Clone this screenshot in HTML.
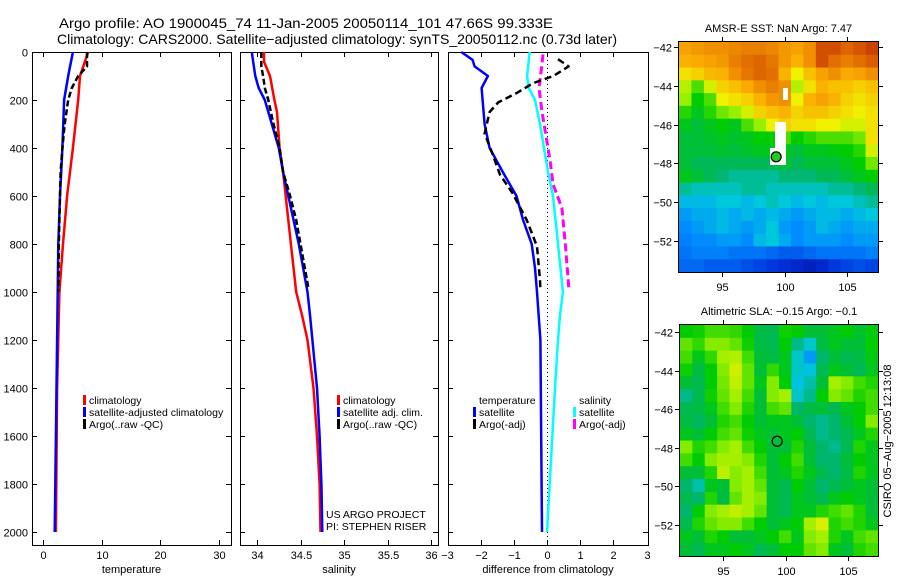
<!DOCTYPE html>
<html><head><meta charset="utf-8"><style>
html,body{margin:0;padding:0;background:#fff;}
svg{display:block;font-family:"Liberation Sans",sans-serif;}
</style></head><body>
<svg id="chart" width="900" height="580" viewBox="0 0 900 580">
<text x="59" y="28" font-size="14" textLength="494" lengthAdjust="spacingAndGlyphs">Argo profile: AO 1900045_74 11-Jan-2005 20050114_101 47.66S 99.333E</text>
<text x="57" y="44" font-size="14" textLength="560" lengthAdjust="spacingAndGlyphs">Climatology: CARS2000. Satellite−adjusted climatology: synTS_20050112.nc (0.73d later)</text>
<g id="layer"></g>
</svg>
<script>
// ---------- data ----------
const tempDepthClim=[0,100,200,400,600,800,1000,1400,2000];
const tempClim=[7.7,6.3,6.0,5.1,4.1,3.4,2.8,2.4,2.2];
const tempDepthSat=[0,100,200,400,600,800,1000,1400,2000];
const tempSat=[5.1,4.3,3.6,3.3,2.9,2.6,2.5,2.3,2.0];
const tempDepthArgo=[0,60,100,150,200,300,400,500,600,800,1000];
const tempArgo=[7.5,7.5,6.0,4.9,4.3,3.7,3.3,3.0,2.9,2.7,2.6];
const salDepthClim=[0,40,100,200,250,400,500,600,800,1000,1100,1200,1400,1600,1800,2000];
const salClim=[34.08,34.08,34.15,34.2,34.23,34.26,34.3,34.33,34.39,34.45,34.52,34.58,34.65,34.69,34.72,34.73];
const salDepthSat=[0,50,100,150,200,300,400,500,600,800,1000,1100,1400,1600,1800,2000];
const salSat=[33.94,33.96,33.98,34.02,34.09,34.17,34.25,34.3,34.36,34.48,34.58,34.61,34.69,34.72,34.74,34.75];
const salDepthArgo=[0,60,100,150,200,300,400,500,600,700,800,900,980];
const salArgo=[34.05,34.05,34.07,34.09,34.13,34.19,34.26,34.3,34.38,34.45,34.5,34.55,34.59];
const dTDepthSat=[0,33,60,100,150,200,300,400,500,600,700,800,900,1000,1200,2000];
const dTSat=[-2.58,-2.24,-2.18,-1.78,-1.97,-1.94,-1.88,-1.73,-1.33,-0.92,-0.72,-0.46,-0.36,-0.3,-0.2,-0.15];
const dTDepthArgo=[30,60,100,130,170,210,250,340,410,510,590,700,810,950,990];
const dTArgo=[0.33,0.65,0.19,-0.42,-0.9,-1.47,-1.73,-1.88,-1.68,-1.42,-1.03,-0.61,-0.3,-0.21,-0.2];
const dSDepthSat=[0,100,150,200,300,400,500,600,800,1000,1100,1200,1400,2000];
const dSSat=[-0.52,-0.6,-0.55,-0.36,-0.21,-0.09,0.03,0.18,0.33,0.48,0.39,0.33,0.24,0.0];
const dSDepthArgo=[10,50,150,250,350,450,550,650,800,950,990];
const dSArgo=[-0.12,-0.15,-0.24,-0.15,-0.03,0.09,0.18,0.45,0.55,0.64,0.66];
const depthTicks=[0,200,400,600,800,1000,1200,1400,1600,1800,2000];
const tempTicks=[0,10,20,30];
const salTicks=[34,34.5,35,35.5,36];
const diffTicks=[-3,-2,-1,0,1,2,3];
const latTicks=[-42,-44,-46,-48,-50,-52];
const lonTicks=[95,100,105];
const sstGrid=[
[9.6,9.7,9.8,9.8,9.9,10,10,9.9,9.7,9.6,9.8,10.6,10.6,10.3,10.5,10.8],
[9.4,9.5,9.6,9.7,10,10.2,10.3,10.1,9.7,9.4,9.8,10.6,10.2,10,10.2,10.4],
[8.8,9.0,9.3,9.4,9.8,10.1,10.3,10.2,9.4,8.6,9.2,9.6,9.8,9.5,9.6,9.8],
[8.2,7.6,8.4,9.0,9.2,9.5,9.8,10,9.8,8.2,8.8,9.4,9.2,9.2,9.0,9.2],
[8.0,7.2,7.6,8.6,8.8,9.0,9.4,9.7,9.8,8.6,9.4,9.6,9.4,9.0,8.8,9.0],
[7.4,7.0,7.4,7.8,8.0,8.4,9.0,9.2,9.4,9.0,9.2,9.2,9.0,8.8,8.6,8.8],
[7.0,6.8,7.0,7.2,7.0,7.6,8.0,8.6,9.0,8.8,8.8,8.6,8.6,8.4,8.4,8.8],
[6.8,6.8,6.9,7.0,6.9,7.0,7.2,7.2,7.6,7.2,7.4,7.6,7.6,7.6,7.8,8.8],
[6.8,6.8,6.8,6.9,6.8,6.9,7.0,7.0,7.0,6.8,7.0,7.0,7.1,7.2,7.4,8.4],
[6.8,6.6,6.6,6.6,6.6,6.6,6.6,6.6,6.8,6.6,6.8,6.8,6.8,7.0,7.2,7.8],
[7.0,6.8,6.6,6.4,6.2,6.2,6.2,6.2,6.4,6.4,6.4,6.6,6.6,6.8,7.0,7.2],
[6.2,6.0,6.0,6.0,6.0,6.2,6.2,6.0,6.0,6.0,6.0,6.0,6.2,6.2,6.4,6.6],
[5.6,5.6,5.6,5.8,5.8,5.6,5.8,6.0,5.8,5.6,5.8,5.6,5.8,5.8,6.0,6.2],
[5.2,5.4,5.4,5.6,5.4,5.6,5.4,5.6,5.4,5.2,5.4,5.6,5.6,5.4,5.6,5.8],
[5.0,5.2,5.4,5.6,5.4,5.2,5.4,5.8,5.2,5.0,5.2,5.6,5.4,5.2,5.4,5.4],
[4.8,5.0,5.0,5.2,5.2,5.0,5.6,5.8,5.4,5.0,5.2,5.2,5.2,5.0,5.2,5.2],
[4.6,4.8,4.8,4.8,4.6,4.6,4.6,4.4,4.2,4.2,4.4,4.6,4.6,4.6,4.6,4.8],
[4.4,4.4,4.2,4.2,4.2,4.0,3.8,3.6,3.4,3.2,3.0,3.2,3.6,3.8,4.0,3.8]];
const slaGrid=[
[0.02,0.03,0.06,0.06,0.05,0.02,-0.03,-0.04,0.03,0.02,-0.02,-0.02,0,0.02,-0.01,0.01],
[0.08,0.05,0.1,0.1,0.08,0.03,-0.03,-0.04,0.02,-0.08,-0.12,-0.03,0,-0.02,-0.02,0.02],
[0.06,0.0,0.05,0.12,0.13,0.06,-0.02,-0.03,0.0,-0.12,-0.2,-0.06,-0.02,-0.04,-0.03,0.01],
[0.03,-0.03,0.02,0.1,0.15,0.08,-0.02,0.05,0.0,-0.12,-0.14,-0.04,0.0,-0.02,-0.04,0.0],
[-0.02,-0.04,0.02,0.09,0.14,0.08,0.0,0.1,0.02,-0.14,-0.1,-0.02,0.12,0.1,0.06,0.04],
[-0.08,-0.04,0.03,0.08,0.12,0.06,-0.02,0.1,0.12,-0.12,-0.08,0.02,0.1,0.08,0.04,0.06],
[-0.04,-0.03,0.0,0.06,0.1,0.04,-0.02,0.06,0.08,-0.06,-0.03,-0.02,-0.04,0.0,0.02,0.06],
[-0.03,-0.05,-0.02,0.04,0.06,0.02,-0.02,0.0,0.0,-0.02,-0.06,-0.08,-0.06,-0.02,0.02,0.1],
[0.0,-0.02,0.02,0.06,0.08,0.03,0.0,-0.02,0.0,0.02,-0.04,-0.08,-0.06,-0.04,0.0,0.04],
[0.1,0.04,0.06,0.1,0.12,0.06,0.02,-0.02,-0.02,0.04,-0.02,-0.06,-0.08,-0.04,0.04,0.0],
[0.06,0.02,0.1,0.12,0.12,0.1,0.04,-0.02,0.02,0.06,-0.02,-0.06,-0.06,-0.02,0.02,0.0],
[-0.02,-0.02,0.04,0.14,0.1,0.12,0.06,-0.02,0.0,0.04,0.0,-0.04,-0.06,-0.03,0.04,0.0],
[-0.06,-0.1,0.0,-0.02,0.1,0.12,0.08,-0.02,-0.04,0.02,-0.02,-0.06,-0.04,-0.02,0.0,-0.02],
[-0.04,-0.06,0.04,-0.03,0.08,0.12,0.1,-0.02,-0.04,0.0,-0.02,-0.04,0.0,0.02,0.0,-0.02],
[-0.06,0.02,0.1,0.12,0.14,0.12,0.08,-0.02,-0.04,0.0,0.0,0.04,0.06,0.08,0.04,-0.02],
[-0.04,0.04,0.08,0.1,0.1,0.06,0.02,-0.02,0.0,0.02,0.12,0.16,0.04,0.06,0.04,0.0],
[0.0,-0.02,0.04,0.02,-0.02,-0.02,0.0,0.02,0.06,0.0,0.1,0.12,0.04,0.0,0.06,0.08],
[-0.02,-0.04,0.0,0.0,0.02,0.0,-0.04,-0.02,0.02,0.02,0.08,0.1,0.0,-0.02,0.04,0.06]];
const argoLon=[99.333];
const argoLat=[-47.66];

// ---------- helpers ----------
const NS='http://www.w3.org/2000/svg';
const layer=document.getElementById('layer');
function mk(tag,attrs,parent){const e=document.createElementNS(NS,tag);for(const k in attrs)e.setAttribute(k,attrs[k]);(parent||layer).appendChild(e);return e;}
const yDepth=d=>52+d*0.24;
const PTOP=52,PBOT=545;
const panels=[
 {x0:32,x1:231,sx:v=>43+5.87*v,ticks:tempTicks,label:'temperature',name:'temperature'},
 {x0:240,x1:438,sx:v=>257+87*(v-34),ticks:salTicks,label:'salinity',name:'salinity'},
 {x0:448,x1:648,sx:v=>547+33.2*v,ticks:diffTicks,label:'difference from climatology',name:'difference'}];
panels.forEach((p,i)=>{
 const g=mk('g',{});
 
 
 const r=mk('rect',{x:p.x0+0.5,y:PTOP+0.5,width:p.x1-p.x0,height:PBOT-PTOP,fill:'none',stroke:'#000','stroke-width':1},g);
 
 
 depthTicks.forEach(d=>{
  const y=Math.round(yDepth(d))+0.5;
  mk('line',{x1:p.x0,x2:p.x0+5,y1:y,y2:y,stroke:'#000'},g);
  mk('line',{x1:p.x1-5,x2:p.x1,y1:y,y2:y,stroke:'#000'},g);
  if(i===0){const t=mk('text',{x:28,y:y+4,'font-size':11,'text-anchor':'end'},g);t.textContent=d;
   
   }
 });
 p.ticks.forEach(v=>{
  const x=Math.round(p.sx(v))+0.5;
  if(x>p.x0+1&&x<p.x1-1){
   mk('line',{x1:x,x2:x,y1:PTOP,y2:PTOP+5,stroke:'#000'},g);
   mk('line',{x1:x,x2:x,y1:PBOT-5,y2:PBOT,stroke:'#000'},g);}
  const t=mk('text',{x:x,y:559,'font-size':11,'text-anchor':'middle'},g);t.textContent=(v<0?'−'+(-v):v);
  
  
 });
 const lb=mk('text',{x:(p.x0+p.x1)/2,y:573,'font-size':11,'text-anchor':'middle'},g);lb.textContent=p.label;
 
 
});
const zl=mk('line',{x1:547.5,x2:547.5,y1:PTOP,y2:PBOT,stroke:'#000','stroke-dasharray':'1,3'});



function series(p,depths,vals,color,dash,name,w){
 const pts=depths.map((d,i)=>p.sx(vals[i]).toFixed(1)+','+yDepth(d).toFixed(1)).join(' ');
 const a={points:pts,fill:'none',stroke:color,'stroke-width':w||2.5,'stroke-linejoin':'round'};
 if(dash)a['stroke-dasharray']=dash;
 const e=mk('polyline',a);
 
 
}
series(panels[0],tempDepthClim,tempClim,'#f00',null,'temperature-climatology-line');
series(panels[0],tempDepthSat,tempSat,'#00f',null,'temperature-satellite-line');
series(panels[0],tempDepthArgo,tempArgo,'#000','6,3','temperature-argo-line');
series(panels[1],salDepthClim,salClim,'#f00',null,'salinity-climatology-line');
series(panels[1],salDepthSat,salSat,'#00f',null,'salinity-satellite-line');
series(panels[1],salDepthArgo,salArgo,'#000','6,3','salinity-argo-line');
series(panels[2],dSDepthSat,dSSat,'#0ff',null,'salinity-diff-satellite-line');
series(panels[2],dSDepthArgo,dSArgo,'#f0f','8,4','salinity-diff-argo-line',3);
series(panels[2],dTDepthSat,dTSat,'#00f',null,'temperature-diff-satellite-line');
series(panels[2],dTDepthArgo,dTArgo,'#000','7,4','temperature-diff-argo-line');

function legend(x,y,items,name){
 const g=mk('g',{});
 
 
 items.forEach((it,i)=>{
  const yy=y+i*12;
  if(it.c)mk('rect',{x:x,y:yy-9,width:3,height:10,fill:it.c},g);
  const t=mk('text',{x:x+6,y:yy,'font-size':10.5},g);t.textContent=it.t;
  
  
 });
}
legend(83,404,[{c:'#f00',t:'climatology'},{c:'#00f',t:'satellite-adjusted climatology'},{c:'#000',t:'Argo(..raw -QC)'}],'temperature-legend');
legend(337,404,[{c:'#f00',t:'climatology'},{c:'#00f',t:'satellite adj. clim.'},{c:'#000',t:'Argo(..raw -QC)'}],'salinity-legend');
legend(473,404,[{c:null,t:'temperature'},{c:'#00f',t:'satellite'},{c:'#000',t:'Argo(-adj)'}],'temperature-diff-legend');
legend(573,404,[{c:null,t:'salinity'},{c:'#0ff',t:'satellite'},{c:'#f0f',t:'Argo(-adj)'}],'salinity-diff-legend');
const pi1=mk('text',{x:326,y:518,'font-size':10.5});pi1.textContent='US ARGO PROJECT';


const pi2=mk('text',{x:326,y:530,'font-size':10.5});pi2.textContent='PI: STEPHEN RISER';



// ---------- maps ----------
const stops=[[0,[0,0,130]],[0.15,[0,50,220]],[0.3,[0,140,255]],[0.38,[0,200,220]],[0.45,[0,180,100]],[0.52,[0,205,0]],[0.6,[150,240,0]],[0.66,[240,240,0]],[0.75,[250,170,0]],[0.85,[215,85,0]],[1,[150,0,0]]];
function cmap(t){t=Math.max(0,Math.min(1,t));for(let i=1;i<stops.length;i++){if(t<=stops[i][0]){const a=stops[i-1],b=stops[i];const f=(t-a[0])/(b[0]-a[0]);return 'rgb('+a[1].map((c,k)=>Math.round(c+(b[1][k]-c)*f)).join(',')+')';}}return 'rgb(150,0,0)';}
function drawMap(m){
 const g=mk('g',{});
 
 
 const rows=m.grid.length,cols=m.grid[0].length;
 const cw=(m.x1-m.x0)/cols,ch=(m.y1-m.y0)/rows;
 m.grid.forEach((row,r)=>row.forEach((v,c)=>{
  const e=mk('rect',{x:(m.x0+c*cw).toFixed(2),y:(m.y0+r*ch).toFixed(2),width:(cw+0.6).toFixed(2),height:(ch+0.6).toFixed(2),fill:cmap(m.t(v))},g);
  
  
 }));
 const lonX=lo=>m.x0+(lo-91.56)*12.5;
 const latY=la=>m.latY(la);
 if(m.gap){m.gap.forEach(gp=>mk('rect',{x:gp[0],y:gp[1],width:gp[2],height:gp[3],fill:'#fff'},g));}
 mk('rect',{x:m.x0-0.5,y:m.y0-0.5,width:m.x1-m.x0+1,height:m.y1-m.y0+1,fill:'none',stroke:'#000'},g);
 latTicks.forEach(la=>{const y=Math.round(latY(la))+0.5;
  mk('line',{x1:m.x0-5,x2:m.x0,y1:y,y2:y,stroke:'#000'},g);
  mk('line',{x1:m.x1,x2:m.x1+5,y1:y,y2:y,stroke:'#000'},g);
  const t=mk('text',{x:m.x0-7,y:y+4,'font-size':11,'text-anchor':'end'},g);t.textContent='−'+(-la);
  
  });
 lonTicks.forEach(lo=>{const x=Math.round(lonX(lo))+0.5;
  mk('line',{x1:x,x2:x,y1:m.y0-5,y2:m.y0,stroke:'#000'},g);
  mk('line',{x1:x,x2:x,y1:m.y1,y2:m.y1+5,stroke:'#000'},g);
  const t=mk('text',{x:x,y:m.y1+19,'font-size':11,'text-anchor':'middle'},g);t.textContent=lo;
  
  });
 const tt=mk('text',{x:(m.x0+m.x1)/2,y:m.y0-10,'font-size':11,'text-anchor':'middle'},g);tt.textContent=m.title;
 
 
 const mkr=mk('circle',{cx:lonX(argoLon[0]),cy:latY(argoLat[0]),r:5,fill:m.mfill,stroke:'#000','stroke-width':1.2},g);
 
 
}
drawMap({name:'sst-map',x0:679,x1:878,y0:42,y1:272,grid:sstGrid,t:v=>(v-2)/10,latY:la=>47+(-42-la)*19.4,title:'AMSR-E SST: NaN Argo: 7.47',mfill:'#22cc22',gap:[[775,122,11,43],[783,88,5,12],[770,148,8,17]]});
drawMap({name:'sla-map',x0:680,x1:878,y0:325,y1:556,grid:slaGrid,t:v=>0.5+v/1.1,latY:la=>332+(-42-la)*19.3,title:'Altimetric SLA: −0.15 Argo: −0.1',mfill:'none'});
const cs=mk('text',{x:0,y:0,'font-size':11,'text-anchor':'middle',transform:'translate(891,441) rotate(-90)'});
cs.textContent='CSIRO 05−Aug−2005 12:13:08';


</script>
</body></html>
